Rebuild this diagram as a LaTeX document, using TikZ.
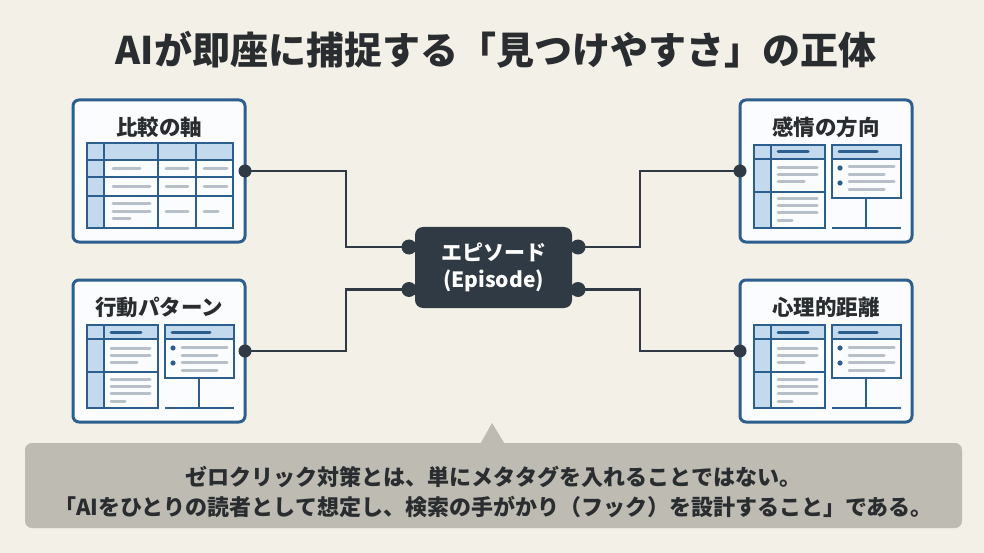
\documentclass[tikz,border=0pt]{standalone}
\usepackage{fontspec}
\setmainfont{Noto Sans CJK JP}
\usetikzlibrary{calc}
\definecolor{bg}{HTML}{F3F0E7}
\definecolor{cardblue}{HTML}{2C5F8E}
\definecolor{cardfill}{HTML}{FBFCFD}
\definecolor{lightblue}{HTML}{C3D9EE}
\definecolor{graybar}{HTML}{B7BFC8}
\definecolor{darkslate}{HTML}{2F3A44}
\definecolor{calloutfill}{HTML}{BDBBB2}
\definecolor{textdark}{HTML}{2A2D30}
\tikzset{
  card/.style={draw=cardblue, line width=3, fill=cardfill, rounded corners=6,
    minimum width=172, minimum height=142, inner sep=0, outer sep=0},
  cardtitle/.style={text=textdark, font=\fontsize{21.5}{24}\selectfont\bfseries, inner sep=0},
  tline/.style={draw=cardblue, line width=1.4},
  lbfill/.style={fill=lightblue},
  gline/.style={draw=graybar, line width=3, line cap=round},
  dbar/.style={draw=cardblue, line width=3, line cap=round},
  conn/.style={draw=darkslate, line width=2.2},
  epi/.style={fill=darkslate, rounded corners=8, minimum width=157, minimum height=81,
    text=white, font=\fontsize{21}{27}\selectfont\bfseries, align=center, inner sep=0, outer sep=0},
  calloutbox/.style={fill=calloutfill, rounded corners=7, minimum width=937, minimum height=85,
    inner sep=0, outer sep=0},
  callouttext/.style={text=textdark, align=center, inner sep=0,
    font=\fontsize{22}{30}\selectfont\bfseries},
}
\newcommand\tablecardbody[1]{%
\begin{scope}[shift={(#1)}]
  \fill[lbfill] (14,43) rectangle (160,60);
  \fill[lbfill] (14,60) rectangle (31,128);
  \draw[tline] (14,43) rectangle (160,128);
  \draw[tline] (14,60) -- (160,60) (14,77) -- (160,77) (14,96) -- (160,96)
    (31,43) -- (31,128) (85,43) -- (85,128) (123,43) -- (123,128);
  \draw[gline] (40,69) -- (67,69) (93,69) -- (115,69) (131,69) -- (154,69);
  \draw[gline] (40,87) -- (77,87) (93,87) -- (115,87) (131,87) -- (154,87);
  \draw[gline] (40,104) -- (77,104) (40,112) -- (77,112) (40,119) -- (57,119);
  \draw[gline] (93,112) -- (115,112) (131,112) -- (145,112);
\end{scope}}
\newcommand\panelcardbody[1]{%
\begin{scope}[shift={(#1)}]
  \fill[lbfill] (14,45) rectangle (85,59);
  \fill[lbfill] (14,59) rectangle (31,128);
  \draw[tline] (14,45) rectangle (85,128);
  \draw[tline] (14,59) -- (85,59) (31,45) -- (31,128) (14,92) -- (85,92);
  \draw[dbar] (38,52) -- (68,52);
  \draw[gline] (38,68) -- (77,68) (38,75) -- (77,75) (38,82) -- (64,82);
  \draw[gline] (38,99) -- (77,99) (38,106) -- (77,106) (38,113) -- (77,113) (38,121) -- (52,121);
  \fill[lbfill] (92,45) rectangle (161,59);
  \draw[tline] (92,45) rectangle (161,98);
  \draw[tline] (92,59) -- (161,59);
  \draw[dbar] (99,52) -- (137,52);
  \fill[cardblue] (100,68) circle (2.6) (100,83) circle (2.6);
  \draw[gline] (109,67) -- (154,67) (109,75) -- (144,75) (109,82) -- (154,82) (109,90) -- (144,90);
  \draw[tline] (126,98) -- (126,128) (92,128) -- (161,128);
\end{scope}}
\begin{document}
\begin{tikzpicture}[x=1pt,y=-1pt]
\fill[bg] (0,0) rectangle (984,553);
\useasboundingbox (0,0) rectangle (984,553);

% title
\node[text=textdark, font=\fontsize{38}{42}\selectfont\bfseries, inner sep=0] (title) at (496,50)
  {AIが即座に捕捉する「見つけやすさ」の正体};

% center node
\node[epi] (ep) at (493.5,267.5) {エピソード\\(Episode)};
\coordinate (pl1) at ($(ep.west)+(-6,-20.5)$);
\coordinate (pl2) at ($(ep.west)+(-6,22)$);
\coordinate (pr1) at ($(ep.east)+(6,-20.5)$);
\coordinate (pr2) at ($(ep.east)+(6,22)$);
\foreach \p in {pl1,pl2} {
  \fill[darkslate] (\p) circle (7.5);
  \fill[darkslate] ($(\p)+(0,-5)$) rectangle ($(\p)+(9,5)$);
}
\foreach \p in {pr1,pr2} {
  \fill[darkslate] (\p) circle (7.5);
  \fill[darkslate] ($(\p)+(0,-5)$) rectangle ($(\p)+(-9,5)$);
}

% cards
\node[card] (c1) at (159,171) {};
\node[card] (c2) at (159,351) {};
\node[card] (c3) at (826,171) {};
\node[card] (c4) at (826,351) {};
\node[cardtitle] (t1) at ($(c1.north)+(0,27)$) {比較の軸};
\node[cardtitle] (t2) at ($(c2.north)+(0,27)$) {行動パターン};
\node[cardtitle] (t3) at ($(c3.north)+(0,27)$) {感情の方向};
\node[cardtitle] (t4) at ($(c4.north)+(0,27)$) {心理的距離};
\tablecardbody{c1.north west}
\panelcardbody{c2.north west}
\panelcardbody{c3.north west}
\panelcardbody{c4.north west}

% connectors
\draw[conn] (c1.east) -- ++(101,0) |- (pl1);
\draw[conn] (c2.east) -- ++(101,0) |- (pl2);
\draw[conn] (c3.west) -- ++(-100,0) |- (pr1);
\draw[conn] (c4.west) -- ++(-100,0) |- (pr2);
\foreach \a in {c1.east,c2.east,c3.west,c4.west} {
  \fill[darkslate] (\a) circle (6.5);
}

% callout
\node[calloutbox] (note) at (493.5,485.5) {};
\fill[calloutfill] ($(note.north)+(-13,0.5)$) -- ($(note.north)+(-1.5,-20)$) -- ($(note.north)+(11,0.5)$) -- cycle;
\node[callouttext] (notetext) at ($(note.center)+(0,6)$)
  {ゼロクリック対策とは、単にメタタグを入れることではない。\\
   「AIをひとりの読者として想定し、検索の手がかり（フック）を設計すること」である。};
\end{tikzpicture}
\end{document}
